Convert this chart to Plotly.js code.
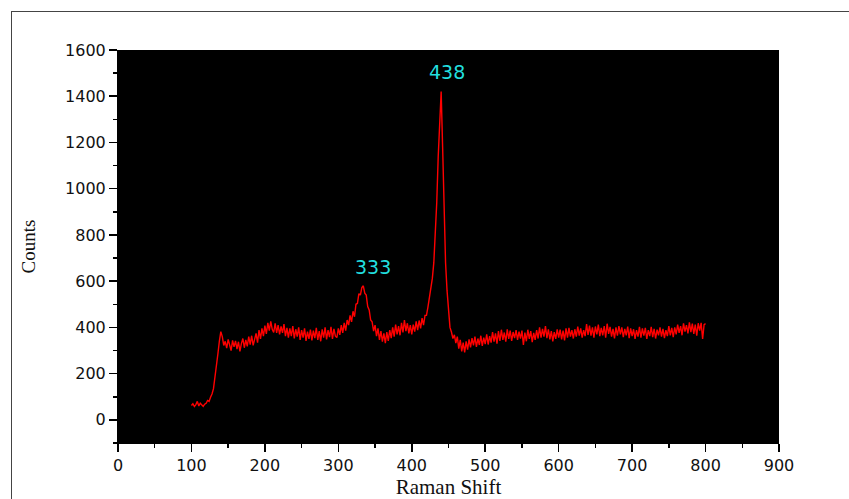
<!DOCTYPE html>
<html>
<head>
<meta charset="utf-8">
<script src="https://cdn.plot.ly/plotly-3.0.1.min.js"></script>
<style>
  html, body { margin: 0; padding: 0; background: #fff; }
  #chart { position: absolute; left: 0; top: 0; width: 849px; height: 499px; }
  #frame { position: absolute; left: 11px; top: 11px; width: 838px; height: 488px;
           border-left: 1px solid #444; border-top: 1px solid #444; pointer-events: none; z-index: 5; }
</style>
</head>
<body>
<div id="chart"></div>
<div id="frame"></div>
<script>
// Raman spectrum, sampled every 2 units starting at 100
const shiftStart = 100;
const shiftStep = 2;
const counts = [
  62, 70, 58, 66, 80, 60, 72, 64, 58, 68,
  72, 84, 80, 98, 112, 135, 180, 230, 285, 340,
  382, 360, 322, 340, 310, 348, 318, 300, 344, 316,
  342, 306, 338, 296, 330, 352, 312, 346, 318, 360,
  326, 364, 322, 352, 374, 334, 388, 350, 396, 362,
  408, 372, 420, 386, 426, 392, 378, 418, 376, 410,
  370, 404, 376, 414, 362, 398, 356, 396, 362, 406,
  352, 392, 360, 400, 346, 388, 356, 396, 342, 382,
  350, 390, 344, 386, 354, 398, 346, 384, 340, 392,
  356, 400, 348, 388, 358, 402, 350, 394, 362, 356,
  396, 368, 410, 376, 420, 386, 432, 410, 452, 424,
  470, 446, 500, 504, 546, 540, 572, 580, 548, 540,
  490, 476, 432, 424, 384, 410, 362, 396, 346, 384,
  338, 374, 332, 380, 342, 388, 354, 400, 360, 412,
  370, 406, 366, 420, 378, 432, 384, 418, 374, 410,
  370, 412, 382, 426, 388, 430, 396, 440, 410, 452,
  452, 488, 530, 566, 612, 680, 790, 940, 1140, 1320,
  1420, 1180, 920, 680, 560, 462, 400, 380, 352, 368,
  332, 360, 308, 346, 296, 334, 292, 340, 304, 348,
  314, 354, 322, 360, 316, 352, 324, 364, 320, 356,
  328, 370, 326, 362, 334, 380, 338, 374, 330, 384,
  342, 390, 346, 378, 338, 392, 350, 386, 342, 380,
  354, 388, 346, 382, 352, 386, 324, 378, 340, 390,
  350, 384, 336, 376, 346, 388, 352, 400, 356, 394,
  360, 406, 354, 392, 348, 384, 340, 380, 350, 392,
  356, 390, 348, 386, 344, 396, 356, 398, 360, 388,
  352, 392, 360, 404, 364, 396, 356, 388, 362, 414,
  368, 408, 364, 400, 356, 404, 370, 412, 362, 398,
  366, 406, 356, 416, 372, 402, 360, 394, 352, 400,
  364, 406, 370, 400, 358, 394, 366, 404, 354, 396,
  362, 392, 350, 388, 360, 402, 356, 396, 364, 398,
  350, 388, 362, 402, 358, 394, 352, 390, 366, 400,
  360, 394, 354, 388, 362, 406, 366, 398, 358, 400,
  370, 412, 376, 406, 366, 418, 382, 410, 374, 422,
  380, 416, 372, 412, 364, 418, 386, 420, 350, 412,
  416
];

const peakPositions = [347, 448];
const peakHeights = [663, 1506];
const peakLabels = ['333', '438'];

const xTitle = 'Raman Shift';
const yTitle = 'Counts';

const trace = {
  type: 'scatter',
  mode: 'lines',
  x0: shiftStart,
  dx: shiftStep,
  y: counts,
  line: { color: '#ff0000', width: 1.4 },
  hoverinfo: 'x+y',
  showlegend: false
};

const tickFont = { family: 'DejaVu Sans, Arial, sans-serif', size: 16, color: '#111' };

const layout = {
  width: 849,
  height: 499,
  margin: { l: 118, r: 70, t: 50, b: 56 },
  paper_bgcolor: '#ffffff',
  plot_bgcolor: '#000000',
  showlegend: false,
  xaxis: {
    range: [0, 900],
    dtick: 100,
    tick0: 0,
    ticks: 'outside',
    ticklen: 8,
    tickwidth: 1.5,
    tickcolor: '#000',
    minor: { dtick: 50, ticks: 'outside', ticklen: 4, tickwidth: 1.5, tickcolor: '#000', showgrid: false },
    showline: true,
    linecolor: '#000',
    linewidth: 1,
    showgrid: false,
    zeroline: false,
    tickfont: tickFont,
    title: { text: xTitle, font: { family: 'Liberation Serif, Times New Roman, serif', size: 21, color: '#111' }, standoff: 18 },
    automargin: false
  },
  yaxis: {
    range: [-100, 1600],
    dtick: 200,
    tick0: 0,
    ticks: 'outside',
    ticklen: 8,
    tickwidth: 1.5,
    tickcolor: '#000',
    minor: { dtick: 100, ticks: 'outside', ticklen: 4, tickwidth: 1.5, tickcolor: '#000', showgrid: false },
    showline: true,
    linecolor: '#000',
    linewidth: 1,
    showgrid: false,
    zeroline: false,
    tickfont: tickFont,
    title: { text: yTitle, font: { family: 'Liberation Serif, Times New Roman, serif', size: 19, color: '#111' }, standoff: 24 },
    automargin: false
  },
  annotations: peakLabels.map((t, i) => ({
    x: peakPositions[i],
    y: peakHeights[i],
    xref: 'x',
    yref: 'y',
    text: t,
    showarrow: false,
    font: { family: 'DejaVu Sans, Arial, sans-serif', size: 19, color: '#22dede' }
  }))
};

Plotly.newPlot('chart', [trace], layout, { displayModeBar: false, staticPlot: true });
</script>
</body>
</html>
